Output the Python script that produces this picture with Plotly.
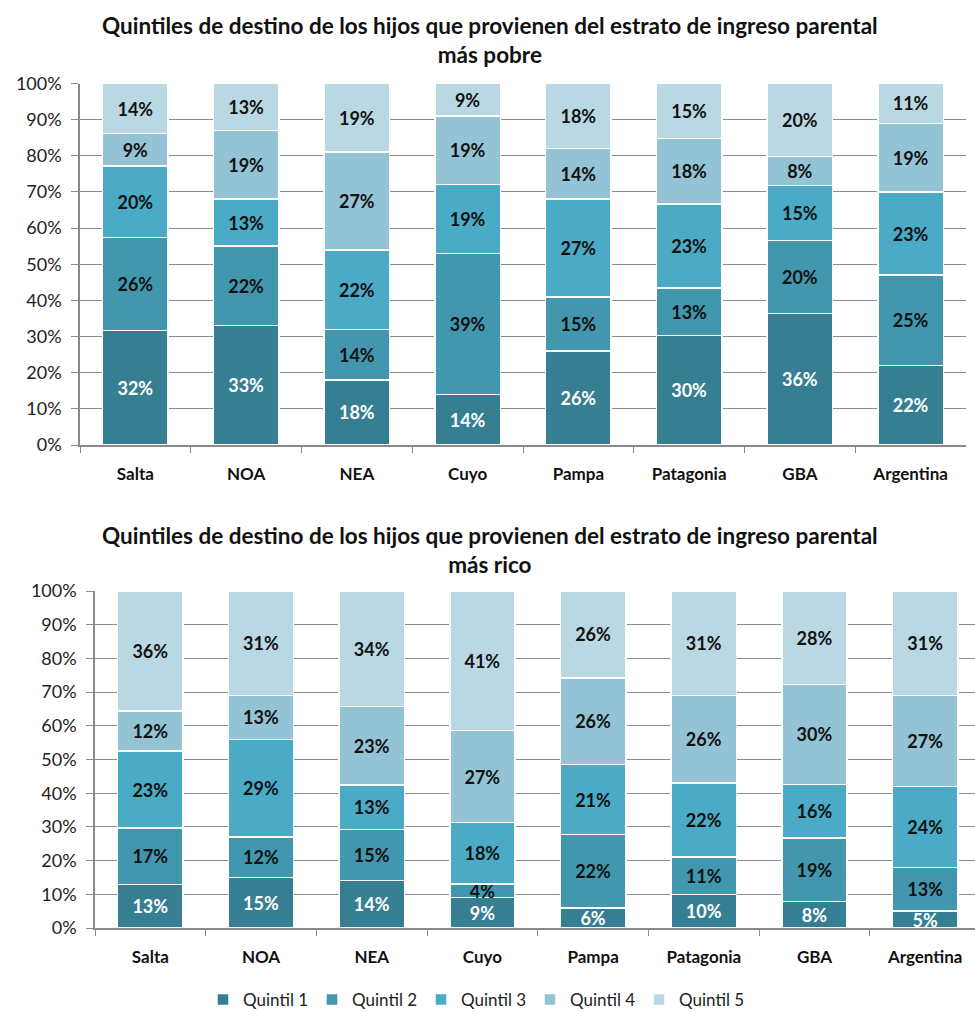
import plotly.graph_objects as go

# Regions and quintile series
regiones = ["Salta", "NOA", "NEA", "Cuyo", "Pampa", "Patagonia", "GBA", "Argentina"]
quintiles = ["Quintil 1", "Quintil 2", "Quintil 3", "Quintil 4", "Quintil 5"]

# Children from the poorest parental income stratum (% per destination quintile)
pobre_q1 = [32, 33, 18, 14, 26, 30, 36, 22]
pobre_q2 = [26, 22, 14, 39, 15, 13, 20, 25]
pobre_q3 = [20, 13, 22, 19, 27, 23, 15, 23]
pobre_q4 = [9, 19, 27, 19, 14, 18, 8, 19]
pobre_q5 = [14, 13, 19, 9, 18, 15, 20, 11]

# Children from the richest parental income stratum
rico_q1 = [13, 15, 14, 9, 6, 10, 8, 5]
rico_q2 = [17, 12, 15, 4, 22, 11, 19, 13]
rico_q3 = [23, 29, 13, 18, 21, 22, 16, 24]
rico_q4 = [12, 13, 23, 27, 26, 26, 30, 27]
rico_q5 = [36, 31, 34, 41, 26, 31, 28, 31]

y_ticks = [0, 10, 20, 30, 40, 50, 60, 70, 80, 90, 100]
y_tick_labels = [f"{v}%" for v in y_ticks]

colores = ["#367F93", "#4297AE", "#4BABC6", "#93C3D5", "#BAD8E4"]
colores_texto = ["#FFFFFF", "#111111", "#111111", "#111111", "#111111"]

FONT = "Lato"
W, H = 975, 1012

fig = go.Figure()

paneles = [
    ([pobre_q1, pobre_q2, pobre_q3, pobre_q4, pobre_q5], "x", "y", False),
    ([rico_q1, rico_q2, rico_q3, rico_q4, rico_q5], "x2", "y2", True),
]

for series, xa, ya, leyenda in paneles:
    for i, vals in enumerate(series):
        fig.add_trace(go.Bar(
            x=regiones, y=vals, name=quintiles[i],
            xaxis=xa, yaxis=ya,
            marker=dict(color=colores[i], line=dict(color="white", width=1.5)),
            width=0.59,
            text=[f"{v}%" for v in vals],
            textposition="inside", insidetextanchor="middle",
            textangle=0,
            textfont=dict(family=FONT, size=18, color=colores_texto[i], weight="bold"),
            showlegend=leyenda, legendgroup=quintiles[i],
            hoverinfo="skip",
        ))

def px_x(a, b):
    return [a / W, b / W]

def px_y(top, bottom):
    return [1 - bottom / H, 1 - top / H]

eje_y = dict(
    range=[0, 100], tickvals=y_ticks, ticktext=y_tick_labels,
    showgrid=True, gridcolor="#8A8A8A", gridwidth=1.3,
    showline=True, linecolor="#8A8A8A", linewidth=1.5,
    ticks="outside", ticklen=7, tickcolor="#8A8A8A", tickwidth=1.3,
    tickfont=dict(family=FONT, size=18, color="#222222"),
    ticklabelstandoff=6, zeroline=False, fixedrange=True,
)
eje_x = dict(
    type="category", showline=True, linecolor="#8A8A8A", linewidth=1.5,
    ticks="outside", tickson="boundaries", ticklen=6, tickcolor="#8A8A8A",
    tickwidth=1.3, showgrid=False,
    tickfont=dict(family=FONT, size=17, color="#111111", weight="bold"),
    ticklabelstandoff=13, fixedrange=True,
)

fig.update_layout(
    width=W, height=H,
    margin=dict(l=0, r=0, t=0, b=0, autoexpand=False),
    paper_bgcolor="white", plot_bgcolor="white",
    barmode="stack", barnorm="percent",
    uniformtext=dict(minsize=18, mode="show"),
    xaxis=dict(eje_x, domain=px_x(80, 966), range=[-0.5, 7.5], anchor="y"),
    yaxis=dict(eje_y, domain=px_y(83.5, 445), anchor="x"),
    xaxis2=dict(eje_x, domain=px_x(95, 975), range=[-0.5, 7.45], anchor="y2"),
    yaxis2=dict(eje_y, domain=px_y(591, 928), anchor="x2"),
    legend=dict(
        orientation="h", xref="container", x=203 / W, xanchor="left",
        yref="container", y=1 - 1000 / H, yanchor="middle",
        font=dict(family=FONT, size=17, color="#222222"),
        entrywidth=64, itemwidth=30, traceorder="normal",
    ),
    font=dict(family=FONT),
)

titulos = [
    ("Quintiles de destino de los hijos que provienen del estrato de ingreso parental<br>más pobre", 40),
    ("Quintiles de destino de los hijos que provienen del estrato de ingreso parental<br>más rico", 550),
]
for texto, yc in titulos:
    fig.add_annotation(
        text=f"<b>{texto}</b>", xref="paper", yref="paper",
        x=490 / W, y=1 - yc / H, xanchor="center", yanchor="middle",
        showarrow=False, align="center",
        font=dict(family=FONT, size=22.5, color="#111111"),
    )

fig.write_html("out.html")
